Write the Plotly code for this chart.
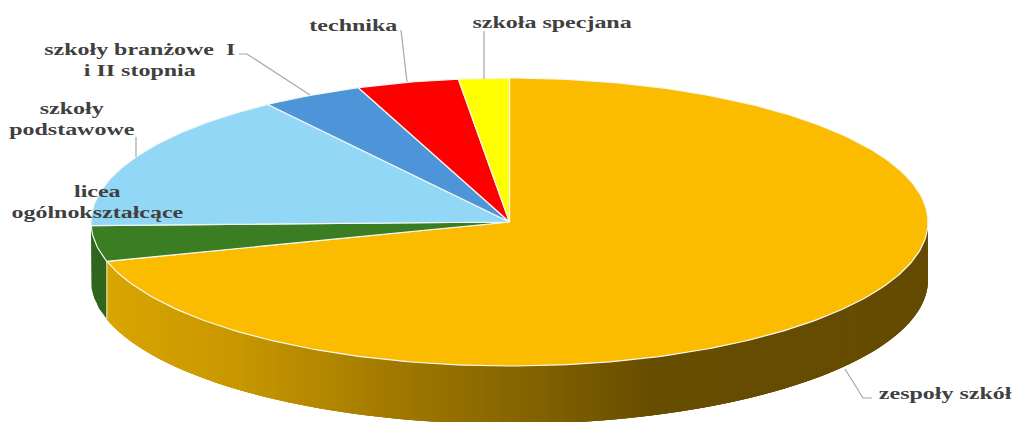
import math
import plotly.graph_objects as go

labels = ["zespoły szkół", "licea ogólnokształcące", "szkoły podstawowe",
          "szkoły branżowe I i II stopnia", "technika", "szkoła specjana"]
values = [70.6, 4.0, 15.6, 3.92, 3.93, 1.95]
top_colors = ["#FBBC00", "#3A7D23", "#92D7F6", "#4E94D9", "#FF0000", "#FFFF00"]
green_wall = "#2F661C"
wall_stops = [(107, (217, 165, 0)), (230, (201, 152, 0)), (400, (160, 120, 0)),
              (560, (125, 94, 0)), (650, (103, 77, 0)), (930, (100, 75, 0))]

W, H = 1014, 422
CX, CY, RX, RY, DEPTH = 509.5, 222, 418.5, 144, 58


def pt(deg, dy=0):
    t = math.radians(deg)
    return CX + RX * math.sin(t), CY - RY * math.cos(t) + dy


def wall_color(x):
    for (x0, c0), (x1, c1) in zip(wall_stops, wall_stops[1:]):
        if x <= x1:
            f = max(0, (x - x0) / (x1 - x0))
            return "rgb(%d,%d,%d)" % tuple(round(a + (b - a) * f) for a, b in zip(c0, c1))
    return "rgb(%d,%d,%d)" % wall_stops[-1][1]


total = sum(values)
bounds = [0]
for v in values:
    bounds.append(bounds[-1] + v / total * 360)

fig = go.Figure()


def poly(xs, ys, fill, line=None, width=0):
    fig.add_trace(go.Scatter(x=xs, y=ys, mode="lines", fill="toself", fillcolor=fill,
                             line=dict(color=line or fill, width=width),
                             hoverinfo="skip", showlegend=False))


def wall(a0, a1, fill, step=0.8, overlap=1.6):
    n = max(1, round((a1 - a0) / step))
    for i in range(n):
        s = a0 + (a1 - a0) * i / n
        e = a0 + (a1 - a0) * (i + 1) / n
        e2 = min(a1, e + overlap)
        arc = [s + (e2 - s) * k / 4 for k in range(5)]
        tp = [pt(a) for a in arc]
        bt = [pt(a, DEPTH) for a in reversed(arc)]
        xs = [p[0] for p in tp + bt]
        ys = [p[1] for p in tp + bt]
        color = fill if fill else wall_color(pt((s + e) / 2)[0])
        poly(xs, ys, color)


# Walls: the part of the rim that faces the viewer (90 to 270 degrees)
wall(bounds[1], 270, green_wall, step=4)
wall(90, bounds[1], None)
bx, by = pt(bounds[1])
fig.add_trace(go.Scatter(x=[bx, bx], y=[by, by + DEPTH], mode="lines",
                         line=dict(color="#F2E8C8", width=1), hoverinfo="skip", showlegend=False))

# Top faces
for i, color in enumerate(top_colors):
    a0, a1 = bounds[i], bounds[i + 1]
    n = max(4, int(a1 - a0))
    arc = [pt(a0 + (a1 - a0) * k / n) for k in range(n + 1)]
    xs = [CX] + [p[0] for p in arc] + [CX]
    ys = [CY] + [p[1] for p in arc] + [CY]
    poly(xs, ys, color, line="#F4F8F4", width=1.2)

leaders = [
    ((845, 369), (863, 398), (872, 398)),
    ((136, 157), (136, 137), None),
    ((310, 95), (247, 54), (239, 54)),
    ((407, 82), (401, 30), None),
    ((484, 79), (484, 31), None),
]
for a, b, c in leaders:
    xs = [a[0], b[0]] + ([c[0]] if c else [])
    ys = [a[1], b[1]] + ([c[1]] if c else [])
    fig.add_trace(go.Scatter(x=xs, y=ys, mode="lines", line=dict(color="#A6A6A6", width=1.2),
                             hoverinfo="skip", showlegend=False))

text_items = [
    ("zespoły szkół", 945, 394),
    ("licea<br>ogólnokształcące", 97, 202),
    ("szkoły<br>podstawowe", 72, 119),
    ("szkoły branżowe  I<br>i II stopnia", 140, 60),
    ("technika", 353, 25),
    ("szkoła specjana", 552, 23),
]
for text, x, y in text_items:
    fig.add_annotation(x=x, y=y, text=text, showarrow=False, xanchor="center", yanchor="middle",
                       align="center", font=dict(family="Liberation Serif", size=16, color="#404040", weight="bold"))

fig.update_xaxes(range=[0, W], visible=False, fixedrange=True)
fig.update_yaxes(range=[H, 0], visible=False, fixedrange=True)
fig.update_layout(width=W, height=H, margin=dict(l=0, r=0, t=0, b=0),
                  paper_bgcolor="white", plot_bgcolor="white", showlegend=False)

post = """
document.body.style.margin = '0';
function widen() {
  document.querySelectorAll('.annotation-text').forEach(function (t) {
    var b = t.getBBox(), c = b.x + b.width / 2;
    t.setAttribute('transform', 'translate(' + c + ',0) scale(1.5,1) translate(' + (-c) + ',0)');
  });
}
widen();
setTimeout(widen, 50);
"""
fig.write_html("out.html", config={"displayModeBar": False}, post_script=post)
